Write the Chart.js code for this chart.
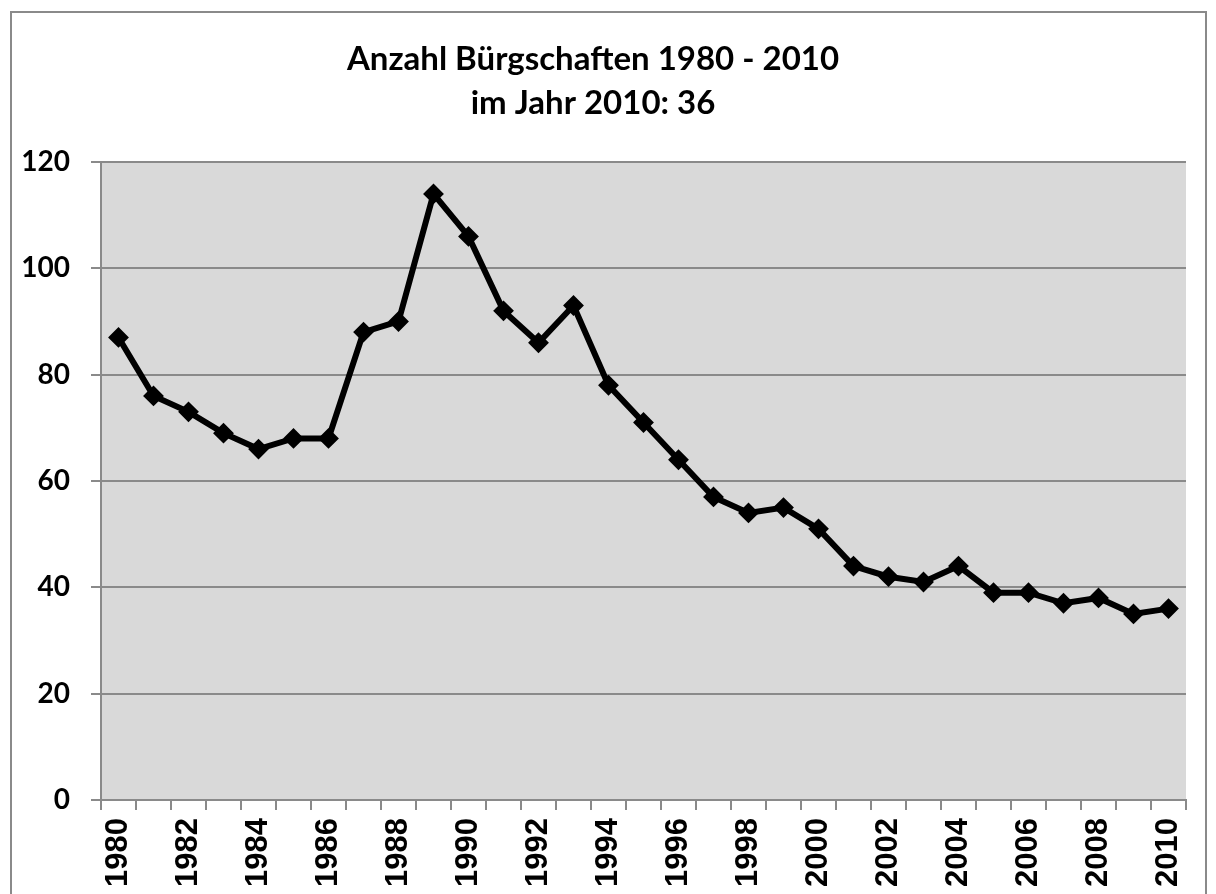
<!DOCTYPE html>
<html>
<head>
<meta charset="utf-8">
<script src="https://cdn.jsdelivr.net/npm/chart.js@4/dist/chart.umd.min.js"></script>
<style>
  body { margin: 0; background: #fff; }
</style>
</head>
<body>
<canvas id="buergschaften" width="1216" height="894"></canvas>
<script>
const years = ['1980', '1981', '1982', '1983', '1984', '1985', '1986', '1987', '1988', '1989', '1990', '1991', '1992', '1993', '1994', '1995', '1996', '1997', '1998', '1999', '2000', '2001', '2002', '2003', '2004', '2005', '2006', '2007', '2008', '2009', '2010'];
const counts = [87, 76, 73, 69, 66, 68, 68, 88, 90, 114, 106, 92, 86, 93, 78, 71, 64, 57, 54, 55, 51, 44, 42, 41, 44, 39, 39, 37, 38, 35, 36];
const titleLines = ['Anzahl Bürgschaften 1980 - 2010', 'im Jahr 2010: 36'];

// grey plot area + frame round the whole chart, like the excel original
const chartBackground = {
  id: 'chartBackground',
  beforeDraw(chart) {
    const { ctx, chartArea } = chart;
    ctx.save();
    ctx.fillStyle = '#ffffff';
    ctx.fillRect(0, 0, chart.width, chart.height);
    ctx.fillStyle = '#d9d9d9';
    ctx.fillRect(chartArea.left, chartArea.top, chartArea.right - chartArea.left, chartArea.bottom - chartArea.top);
    ctx.strokeStyle = '#8a8a8a';
    ctx.lineWidth = 2;
    ctx.strokeRect(11, 12, 1195, 900);
    ctx.restore();
  }
};

const canvas = document.querySelector('#buergschaften');
const chart = new Chart(canvas, {
  type: 'line',
  data: {
    labels: years,
    datasets: [{
      label: 'Bürgschaften',
      data: counts,
      borderColor: '#000',
      borderWidth: 6,
      pointStyle: 'rectRot',
      pointRadius: 9,
      pointBackgroundColor: '#000',
      pointBorderColor: '#000',
      pointBorderWidth: 2,
      tension: 0
    }]
  },
  options: {
    responsive: false,
    animation: false,
    layout: { padding: { left: 0, right: 30, top: 0, bottom: 0 } },
    plugins: {
      legend: { display: false },
      tooltip: { enabled: false },
      title: {
        display: true,
        text: titleLines,
        color: '#000',
        font: { family: 'Lato', size: 33, weight: 'bold', lineHeight: 1.333 },
        padding: { top: 37, bottom: 37 }
      }
    },
    scales: {
      x: {
        offset: true,
        afterFit: s => { s.height = 94; },
        border: { color: '#8a8a8a', width: 2 },
        grid: {
          offset: true,
          drawOnChartArea: false,
          color: '#8a8a8a',
          lineWidth: 2,
          tickLength: 10
        },
        ticks: {
          autoSkip: false,
          minRotation: 90,
          maxRotation: 90,
          padding: 8,
          color: '#000',
          font: { family: 'Liberation Sans', size: 31, weight: 'bold' },
          callback: function (v, i) { return i % 2 === 0 ? this.getLabelForValue(v) : ''; }
        }
      },
      y: {
        min: 0,
        max: 120,
        afterFit: s => { s.width = 101; },
        border: { color: '#8a8a8a', width: 2 },
        grid: { color: '#8a8a8a', lineWidth: 2, tickLength: 10 },
        ticks: {
          stepSize: 20,
          padding: 21,
          color: '#000',
          font: { family: 'Lato', size: 28, weight: 'bold' }
        }
      }
    }
  },
  plugins: [chartBackground]
});
</script>
</body>
</html>
